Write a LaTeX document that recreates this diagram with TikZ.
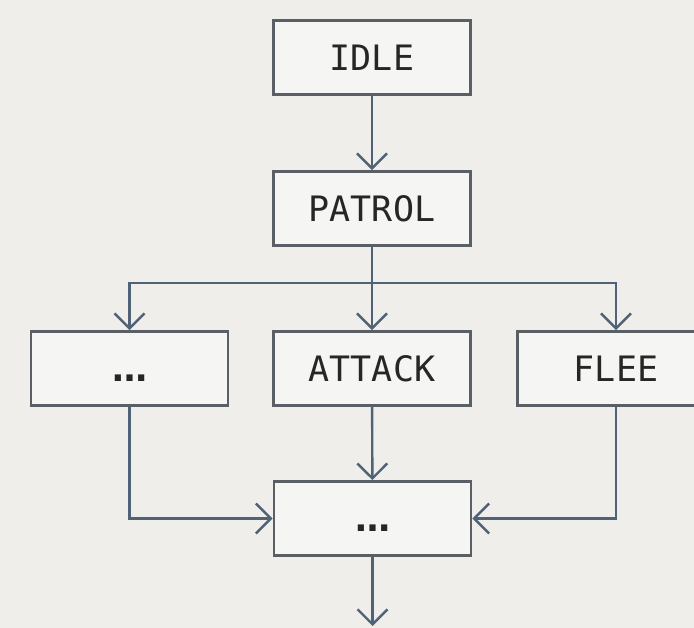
\documentclass[tikz,border=0pt]{standalone}
\usepackage{fontspec}
\setmonofont{DejaVu Sans Mono}
\newfontfamily\dotsfont{DejaVu Sans}
\usetikzlibrary{arrows.meta}
\definecolor{bgcol}{HTML}{EFEEEA}
\definecolor{boxfill}{HTML}{F5F5F3}
\definecolor{boxline}{HTML}{5A5F65}
\definecolor{flowline}{HTML}{4F6276}
\definecolor{txtcol}{HTML}{262626}
\newcommand{\stateeta}{{\vphantom{I}\dotsfont\bfseries …}}
\tikzset{
  x=1pt, y=-1pt,
  state/.style={draw=boxline, fill=boxfill, line width=2.8pt,
    minimum width=197pt, minimum height=74pt, inner sep=0pt,
    font=\ttfamily\fontsize{35}{40}\selectfont, text=txtcol},
  flow/.style={draw=flowline, line width=2.4pt,
    -{Straight Barb[length=15pt,width=30pt,line width=2.4pt]}},
  link/.style={draw=flowline, line width=2.4pt}
}
\begin{document}
\begin{tikzpicture}
  \fill[bgcol] (0,0) rectangle (694,628);
  \useasboundingbox (0,0) rectangle (694,628);

  \node[state] (idle)   at (372,57.5)  {IDLE};
  \node[state] (patrol) at (372,208.5) {PATROL};
  \node[state] (other)  at (129.5,368.5) {\stateeta};
  \node[state] (attack) at (372,368.5) {ATTACK};
  \node[state] (flee)   at (616,368.5) {FLEE};
  \node[state] (merge)  at (372.5,518.5) {\stateeta};

  \coordinate (split) at (372,283);
  \coordinate (exit)  at (372.5,626);

  \draw[flow] (idle) -- (patrol);
  \draw[link] (patrol) -- (split);
  \draw[flow] (split) -- (attack);
  \draw[flow] (split) -| (other);
  \draw[flow] (split) -| (flee);
  \draw[flow] (attack) -- (merge);
  \draw[flow] (other) |- (merge);
  \draw[flow] (flee) |- (merge);
  \draw[flow] (merge) -- (exit);
\end{tikzpicture}
\end{document}
